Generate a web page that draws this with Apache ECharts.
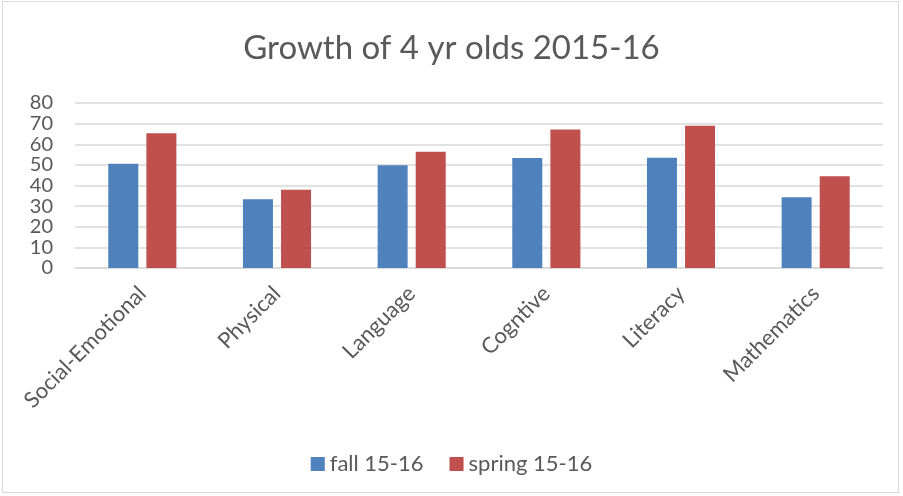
<!DOCTYPE html>
<html>
<head>
<meta charset="utf-8">
<script src="https://cdn.jsdelivr.net/npm/echarts@6/dist/echarts.min.js"></script>
<style>
html,body{margin:0;padding:0;background:#fff;}
#wrap{position:absolute;left:2px;top:1px;width:897px;height:492px;border:1px solid #d9d9d9;box-sizing:border-box;}
#chart{position:absolute;left:0;top:0;width:903px;height:496px;}
</style>
</head>
<body>
<div id="wrap"></div>
<div id="chart"></div>
<script>
const categories = ['Social-Emotional','Physical','Language','Cogntive','Literacy','Mathematics'];
const fallValues = [50.6, 33.3, 49.8, 53.3, 53.5, 34.3];
const springValues = [65.3, 38.0, 56.4, 67.1, 69.0, 44.5];
const seriesNames = ['fall 15-16','spring 15-16'];
const titleText = 'Growth of 4 yr olds 2015-16';

const font = "Lato, 'Open Sans', sans-serif";
const chart = echarts.init(document.getElementById('chart'));
chart.setOption({
  animation: false,
  title: {
    text: titleText, left: 'center', top: 27,
    textStyle: {fontFamily: font, fontSize: 33, fontWeight: 'normal', color: '#595959'}
  },
  legend: {
    data: seriesNames, top: 448, left: 'center',
    itemWidth: 14, itemHeight: 14, itemGap: 26, icon: 'rect',
    textStyle: {fontFamily: font, fontSize: 22, color: '#595959'}
  },
  grid: {left: 75, right: 20, top: 103, bottom: 228, containLabel: false},
  xAxis: {
    type: 'category', data: categories,
    axisLine: {show: true, lineStyle: {color: '#d9d9d9', width: 1.5}},
    axisTick: {show: false},
    axisLabel: {rotate: 45, interval: 0, fontFamily: font, fontSize: 22, color: '#595959', margin: 22}
  },
  yAxis: {
    type: 'value', min: 0, max: 80, interval: 10,
    axisLine: {show: false}, axisTick: {show: false},
    splitLine: {lineStyle: {color: '#d9d9d9', width: 1.5}},
    axisLabel: {fontFamily: font, fontSize: 20, color: '#595959', margin: 22}
  },
  series: [
    {name: seriesNames[0], type: 'bar', data: fallValues, barWidth: 30, barGap: '27%',
     itemStyle: {color: '#4F81BD'}},
    {name: seriesNames[1], type: 'bar', data: springValues, barWidth: 30,
     itemStyle: {color: '#C0504D'}}
  ]
});
</script>
</body>
</html>
